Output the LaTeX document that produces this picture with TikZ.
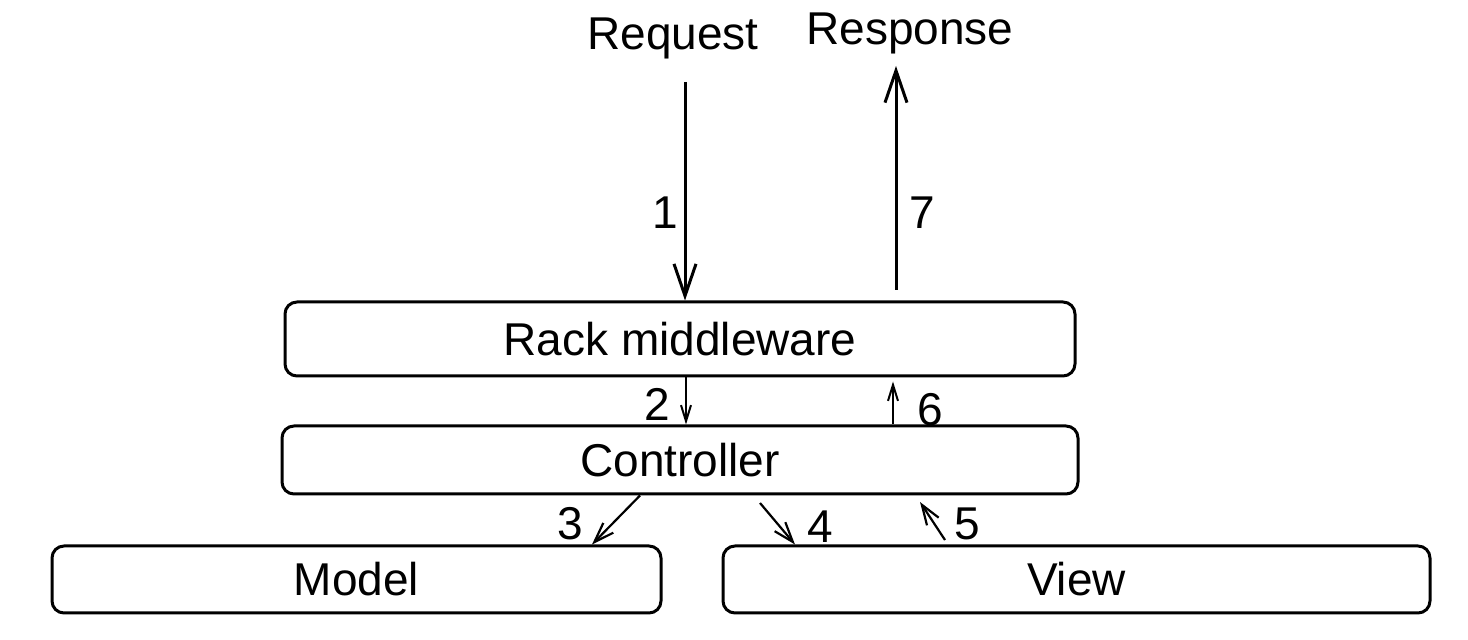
\documentclass[tikz,border=0pt]{standalone}
\usepackage{fontspec}
\setmainfont{Liberation Sans}
\usetikzlibrary{arrows.meta}
\tikzset{
  box/.style={draw, line width=1.5pt, rounded corners=6pt, inner sep=0pt, font=\fontsize{23}{28}\selectfont},
  lbl/.style={inner sep=0pt, font=\fontsize{23}{28}\selectfont},
  bigarrow/.style={line width=1.5pt, -{Straight Barb[length=16pt, width=11pt, line width=1.5pt]}},
  midarrow/.style={line width=1.1pt, -{Straight Barb[length=10pt, width=7pt, line width=1.1pt]}},
  smallarrow/.style={line width=1pt, -{Straight Barb[length=8pt, width=5pt, line width=1pt]}},
}
\begin{document}
\begin{tikzpicture}[x=0.5pt, y=-0.5pt]
\useasboundingbox (0,0) rectangle (1468,640);
% boxes
\node[box, minimum width=395pt, minimum height=37pt] (rack) at (680,339) {Rack middleware};
\node[box, minimum width=398pt, minimum height=34pt] (ctrl) at (680,460) {Controller};
\node[box, minimum width=304.5pt, minimum height=33.5pt] (model) at (356.5,579.5) {Model};
\node[box, minimum width=353.5pt, minimum height=33.5pt] (view) at (1076.5,579.5) {View};
% top texts
\node[lbl] (req) at (673,38) {Request};
\node[lbl] (resp) at (910,33) {Response};
% helper coordinates
\coordinate (a1s) at (685,82);
\coordinate (a7s) at (896,290);
\coordinate (a7e) at (896,66);
\coordinate (x2) at (686,0);
\coordinate (x6) at (893,0);
\coordinate (x3s) at (640,0);
\coordinate (x3e) at (592,0);
\coordinate (a4s) at (760,503);
\coordinate (x4e) at (795,0);
\coordinate (a5s) at (945,540);
\coordinate (a5e) at (920,502);
% connectors
\draw[bigarrow] (a1s) -- (a1s |- rack.north);
\draw[bigarrow] (a7s) -- (a7e);
\draw[smallarrow] (x2 |- rack.south) -- (x2 |- ctrl.north);
\draw[smallarrow, shorten >=2pt] (x6 |- ctrl.north) -- (x6 |- rack.south);
\draw[midarrow] (x3s |- ctrl.south) -- (x3e |- model.north);
\draw[midarrow] (a4s) -- (x4e |- view.north);
\draw[midarrow] (a5s) -- (a5e);
% labels
\node[lbl] (l1) at (665,213) {1};
\node[lbl] (l7) at (922,213) {7};
\node[lbl] (l2) at (657,404) {2};
\node[lbl] (l6) at (930,410) {6};
\node[lbl] (l3) at (570,524) {3};
\node[lbl] (l4) at (820,527) {4};
\node[lbl] (l5) at (967,524) {5};
\end{tikzpicture}
\end{document}
